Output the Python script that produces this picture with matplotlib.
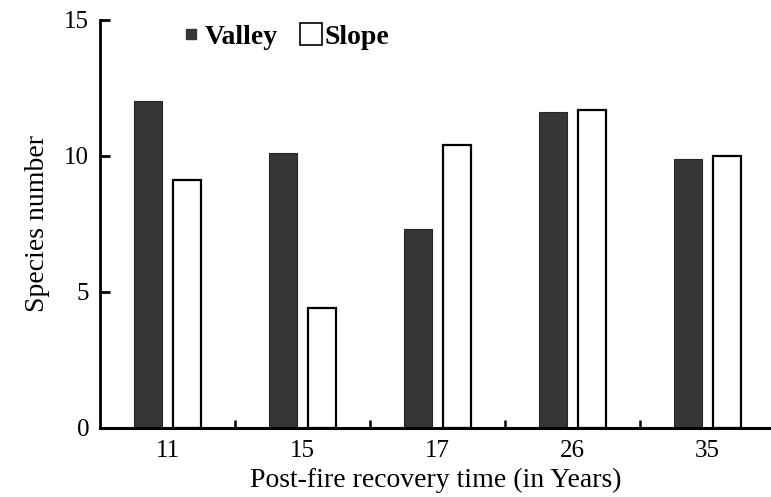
import numpy as np
import matplotlib.pyplot as plt
from matplotlib.lines import Line2D

years = ['11', '15', '17', '26', '35']
valley = [12.0, 10.1, 7.3, 11.6, 9.9]
slope = [9.1, 4.4, 10.4, 11.7, 10.0]

plt.rcParams['font.family'] = ['Liberation Serif', 'DejaVu Serif']

fig = plt.figure(figsize=(7.71, 4.97), dpi=100)
ax = fig.add_axes([0.13, 0.139, 0.87, 0.821])

x = np.arange(len(years))
w = 0.21
off = 0.145
ax.bar(x - off, valley, w, color='#363636', edgecolor='#262626', linewidth=0.8)
ax.bar(x + off, slope, w, color='white', edgecolor='black', linewidth=1.6)

ax.set_xlim(-0.5, 4.47)
ax.set_ylim(0, 15)
ax.set_yticks([0, 5, 10, 15])
ax.set_xticks(x)
ax.set_xticklabels(years)
ax.set_xticks(x[:-1] + 0.5, minor=True)

ax.spines['top'].set_visible(False)
ax.spines['right'].set_visible(False)
ax.spines['left'].set_linewidth(2)
ax.spines['bottom'].set_linewidth(2.2)

ax.tick_params(axis='y', direction='in', length=7, width=2, pad=8, labelsize=18)
ax.tick_params(axis='x', which='major', length=0, pad=9, labelsize=18)
ax.tick_params(axis='x', which='minor', direction='in', length=6, width=1.8)

ax.set_xlabel('Post-fire recovery time (in Years)', fontsize=20, labelpad=4)
ax.set_ylabel('Species number', fontsize=20, labelpad=10)

handles = [
    Line2D([], [], marker='s', linestyle='none', markersize=6.5,
           markerfacecolor='#363636', markeredgecolor='#363636'),
    Line2D([], [], marker='s', linestyle='none', markersize=16,
           markerfacecolor='white', markeredgecolor='black', markeredgewidth=1.2),
]
leg = ax.legend(handles, ['Valley', 'Slope'], loc='upper left',
                bbox_to_anchor=(0.085, 1.05), ncol=2, frameon=False,
                handlelength=0.6, handletextpad=0.2, columnspacing=0.9,
                prop={'size': 20, 'weight': 'bold'})

fig.savefig('out.png', dpi=100)
